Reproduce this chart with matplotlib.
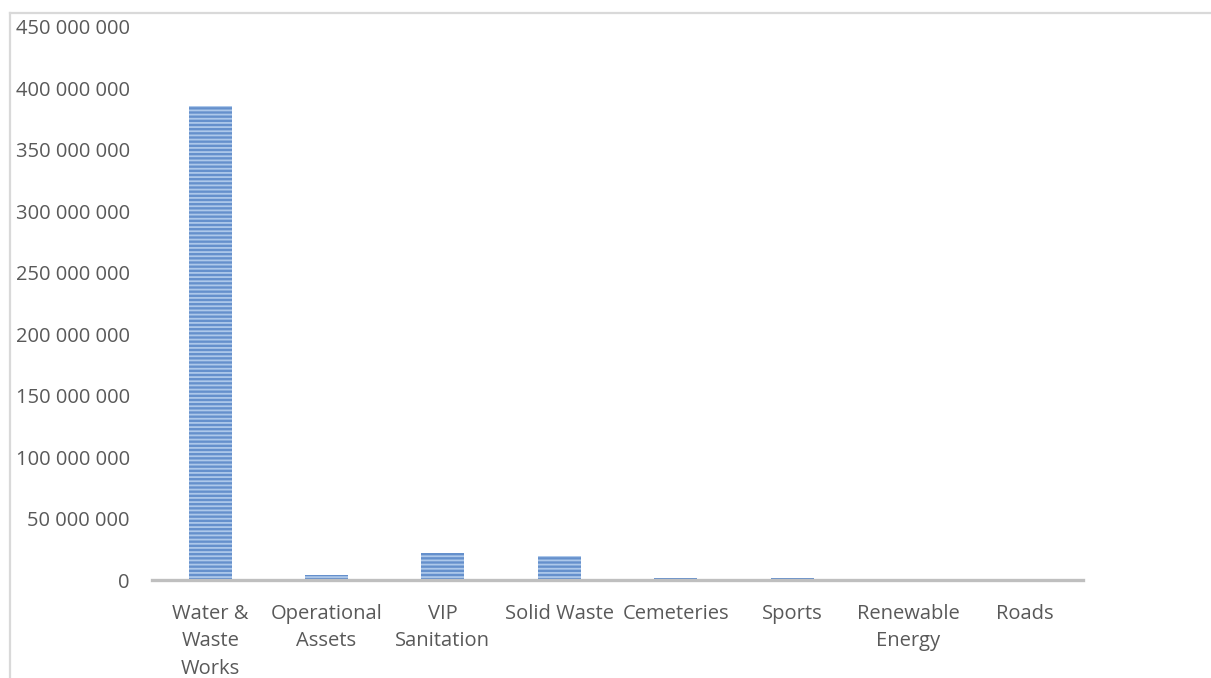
import matplotlib
matplotlib.use("Agg")
import matplotlib.pyplot as plt
from matplotlib.lines import Line2D
from matplotlib.ticker import FuncFormatter

categories = [
    "Water &\nWaste\nWorks",
    "Operational\nAssets",
    "VIP\nSanitation",
    "Solid Waste",
    "Cemeteries",
    "Sports",
    "Renewable\nEnergy",
    "Roads",
]
values = [385_500_000, 4_300_000, 21_800_000, 19_500_000, 1_500_000, 1_500_000, 500_000, 500_000]
y_ticks = list(range(0, 450_000_001, 50_000_000))

plt.rcParams["font.family"] = ["Open Sans", "DejaVu Sans"]
plt.rcParams["hatch.color"] = "#ADC8EA"
plt.rcParams["hatch.linewidth"] = 1.3

text_color = "#595959"

fig = plt.figure(figsize=(12.11, 6.78), dpi=100)
ax = fig.add_axes([0.1255, 0.1445, 0.8943 - 0.1255, 0.9602 - 0.1445])

x = list(range(len(categories)))
ax.bar(x, values, width=0.37, color="#6590CC", edgecolor="#ADC8EA",
       linewidth=0, hatch="----", zorder=2)

ax.set_xlim(-0.5, len(categories) - 0.5)
ax.set_ylim(0, 450_000_000)
ax.set_yticks(y_ticks)
ax.yaxis.set_major_formatter(FuncFormatter(lambda v, _: f"{int(v):,}".replace(",", " ")))
ax.set_xticks(x)
ax.set_xticklabels(categories, linespacing=1.52)

ax.tick_params(axis="y", length=0, pad=16, labelsize=14.5, labelcolor=text_color)
ax.tick_params(axis="x", length=0, pad=17, labelsize=14.5, labelcolor=text_color)

for side in ("top", "right", "left"):
    ax.spines[side].set_visible(False)
ax.spines["bottom"].set_color("#BFBFBF")
ax.spines["bottom"].set_linewidth(2.4)
ax.spines["bottom"].set_zorder(3)

# outer chart frame: top and left edges only
fx = 10 / 1211
fy = 1 - 13 / 678
fig.add_artist(Line2D([fx, fx], [0, fy], transform=fig.transFigure, color="#D9D9D9", linewidth=1.6))
fig.add_artist(Line2D([fx, 1], [fy, fy], transform=fig.transFigure, color="#D9D9D9", linewidth=1.6))

fig.savefig("out.png", dpi=100)
